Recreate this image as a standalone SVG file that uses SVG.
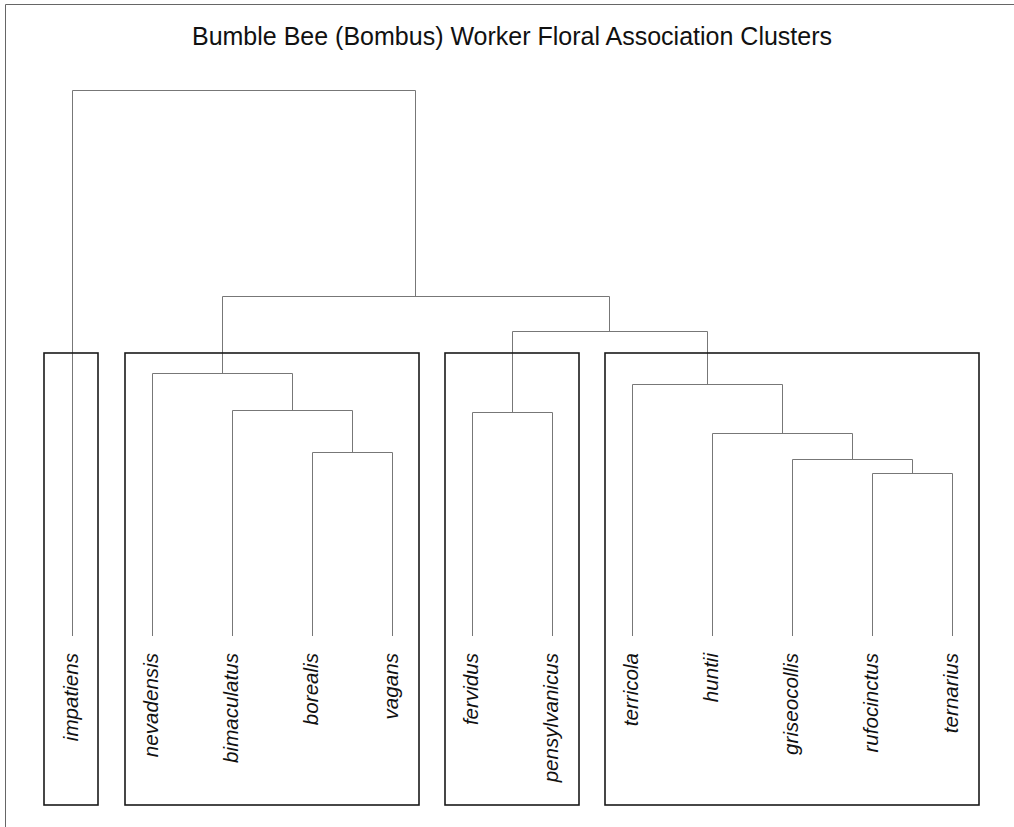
<svg xmlns="http://www.w3.org/2000/svg" width="1014" height="827" viewBox="0 0 1014 827">
<style>
.frame{fill:none;stroke:#666;stroke-width:1}
.box{fill:none;stroke:#1a1a1a;stroke-width:1.6}
.edge{fill:none;stroke:#777;stroke-width:1}
.leaf{font-family:"Liberation Sans",Arial,sans-serif;font-style:italic;font-size:20.6px;fill:#111;text-anchor:end}
.title{font-family:"Liberation Sans",Arial,sans-serif;font-size:25px;fill:#111;text-anchor:middle}
</style>
<rect width="1014" height="827" fill="#fff"/>
<path class="frame" d="M5.5,830 V4.5 H1020"/>
<text class="title" x="512" y="45">Bumble Bee (Bombus) Worker Floral Association Clusters</text>
<g id="connectors">
<path class="edge" d="M72.5,636 V90.5 H415.5 V296.5"/>
<path class="edge" d="M222.5,373.5 V296.5 H609.5 V331.5"/>
<path class="edge" d="M152.5,636 V373.5 H292.5 V410.5"/>
<path class="edge" d="M232.5,636 V410.5 H352.5 V452.5"/>
<path class="edge" d="M312.5,636 V452.5 H392.5 V636"/>
<path class="edge" d="M512.5,412.5 V331.5 H707.5 V384.5"/>
<path class="edge" d="M472.5,636 V412.5 H552.5 V636"/>
<path class="edge" d="M632.5,636 V384.5 H782.5 V433.5"/>
<path class="edge" d="M712.5,636 V433.5 H852.5 V459.5"/>
<path class="edge" d="M792.5,636 V459.5 H912.5 V473.5"/>
<path class="edge" d="M872.5,636 V473.5 H952.5 V636"/>
</g>
<g id="cluster1"><rect class="box" x="44" y="353" width="54" height="452"/></g>
<g id="cluster2"><rect class="box" x="125" y="353" width="294" height="452"/></g>
<g id="cluster3"><rect class="box" x="445" y="353" width="134" height="452"/></g>
<g id="cluster4"><rect class="box" x="605" y="353" width="374" height="452"/></g>
<g id="leaf-impatiens"><text class="leaf" transform="translate(78,653) rotate(-90)">impatiens</text></g>
<g id="leaf-nevadensis"><text class="leaf" transform="translate(158,653) rotate(-90)">nevadensis</text></g>
<g id="leaf-bimaculatus"><text class="leaf" transform="translate(238,653) rotate(-90)">bimaculatus</text></g>
<g id="leaf-borealis"><text class="leaf" transform="translate(318,653) rotate(-90)">borealis</text></g>
<g id="leaf-vagans"><text class="leaf" transform="translate(398,653) rotate(-90)">vagans</text></g>
<g id="leaf-fervidus"><text class="leaf" transform="translate(478,653) rotate(-90)">fervidus</text></g>
<g id="leaf-pensylvanicus"><text class="leaf" transform="translate(558,653) rotate(-90)">pensylvanicus</text></g>
<g id="leaf-terricola"><text class="leaf" transform="translate(638,653) rotate(-90)">terricola</text></g>
<g id="leaf-huntii"><text class="leaf" transform="translate(718,653) rotate(-90)">huntii</text></g>
<g id="leaf-griseocollis"><text class="leaf" transform="translate(798,653) rotate(-90)">griseocollis</text></g>
<g id="leaf-rufocinctus"><text class="leaf" transform="translate(878,653) rotate(-90)">rufocinctus</text></g>
<g id="leaf-ternarius"><text class="leaf" transform="translate(958,653) rotate(-90)">ternarius</text></g>
</svg>
